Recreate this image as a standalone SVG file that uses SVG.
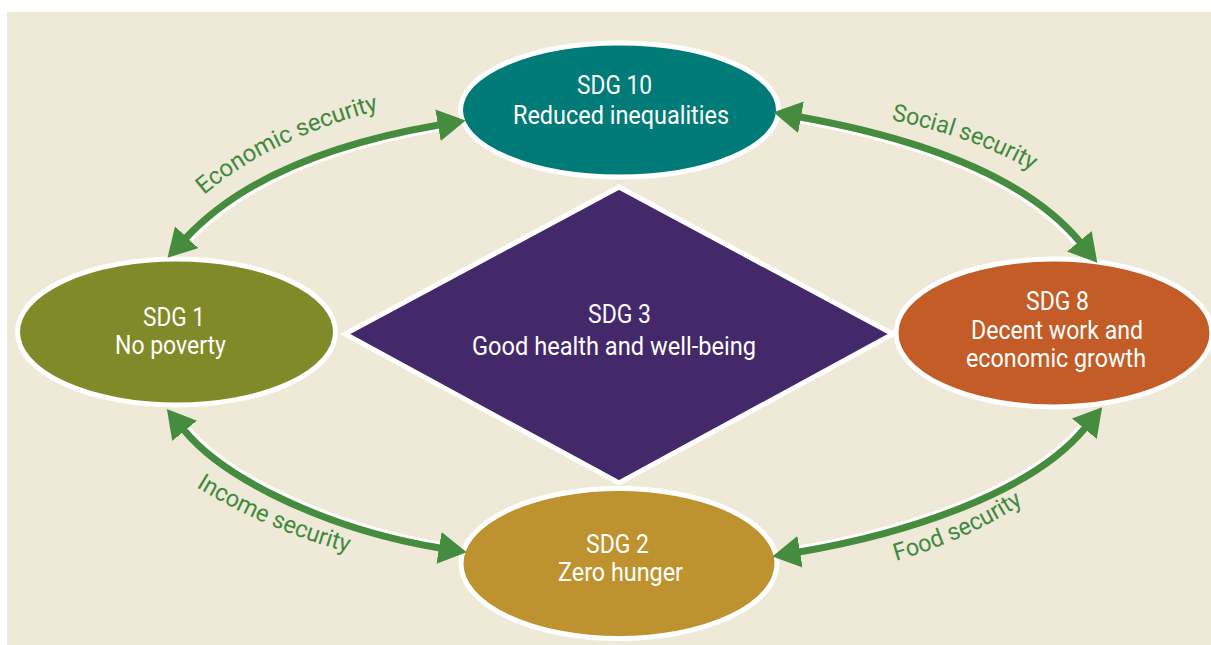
<svg xmlns="http://www.w3.org/2000/svg" width="1211" height="645" viewBox="0 0 1211 645">
  <style>
    .node { stroke: #ffffff; stroke-width: 5; }
    .title { font-family: Roboto, "Liberation Sans", sans-serif; font-size: 26px; fill: #ffffff; text-anchor: middle; }
    .link { fill: none; stroke: #458c3f; stroke-width: 7; }
    .halo { fill: none; stroke: #ffffff; stroke-width: 7; }
    .tag { font-family: Roboto, "Liberation Sans", sans-serif; font-size: 24px; fill: #3f893c; }
  </style>
  <defs>
    <marker id="head" markerUnits="userSpaceOnUse" viewBox="0 0 28 32" markerWidth="28" markerHeight="32" refX="1" refY="16" orient="auto-start-reverse">
      <path d="M0,0 L28,16 L0,32 Z" fill="#458c3f"/>
    </marker>
    <path id="p-econ" d="M 204,195 Q 272,137 387,108"/>
    <path id="p-social" d="M 891,120 Q 975,137 1034,172"/>
    <path id="p-income" d="M 196,487 Q 268,531 354,554"/>
    <path id="p-food" d="M 896,561 Q 968,540 1027,501"/>
  </defs>

  <rect x="7" y="12" width="1204" height="633" fill="#efe9d8"/>

  <g id="sdg3">
    <polygon class="node" points="619,187 893,334 619,483 345,334" fill="#43296a" stroke-width="4"/>
    <text class="title" x="619.5" y="323" textLength="63" lengthAdjust="spacingAndGlyphs">SDG 3</text>
    <text class="title" x="614" y="355" textLength="284" lengthAdjust="spacingAndGlyphs">Good health and well-being</text>
  </g>

  <g id="sdg10">
    <ellipse class="node" cx="619.5" cy="110" rx="159" ry="67" fill="#007b78"/>
    <text class="title" x="614.5" y="94" textLength="75" lengthAdjust="spacingAndGlyphs">SDG 10</text>
    <text class="title" x="621" y="124" textLength="216" lengthAdjust="spacingAndGlyphs">Reduced inequalities</text>
  </g>

  <g id="sdg1">
    <ellipse class="node" cx="176.5" cy="332" rx="159" ry="73" fill="#818a28"/>
    <text class="title" x="174" y="326" textLength="62" lengthAdjust="spacingAndGlyphs">SDG 1</text>
    <text class="title" x="170.5" y="354" textLength="111" lengthAdjust="spacingAndGlyphs">No poverty</text>
  </g>

  <g id="sdg8">
    <ellipse class="node" cx="1054" cy="333" rx="158" ry="74" fill="#c45c27"/>
    <text class="title" x="1057.5" y="310" textLength="63" lengthAdjust="spacingAndGlyphs">SDG 8</text>
    <text class="title" x="1057" y="339" textLength="172" lengthAdjust="spacingAndGlyphs">Decent work and</text>
    <text class="title" x="1056" y="367" textLength="180" lengthAdjust="spacingAndGlyphs">economic growth</text>
  </g>

  <g id="sdg2">
    <ellipse class="node" cx="619" cy="563.5" rx="158" ry="75" fill="#be922e"/>
    <text class="title" x="617.5" y="553" textLength="63" lengthAdjust="spacingAndGlyphs">SDG 2</text>
    <text class="title" x="620.5" y="581" textLength="125" lengthAdjust="spacingAndGlyphs">Zero hunger</text>
  </g>

  <g id="connectors">
    <!-- white edge on the inner side of each arc -->
    <path class="halo" d="M 439,125 C 340,142 245,175 186,238" transform="translate(2,2.5)"/>
    <path class="halo" d="M 800,117 C 900,135 1020,170 1080,242" transform="translate(-2,2.5)"/>
    <path class="halo" d="M 184,430 C 225,480 330,530 440,548" transform="translate(2,-2.5)"/>
    <path class="halo" d="M 799,552 C 900,535 1030,495 1085,428" transform="translate(-2,-2.5)"/>

    <path class="link" d="M 439,125 C 340,142 245,175 186,238" marker-start="url(#head)" marker-end="url(#head)"/>
    <path class="link" d="M 800,117 C 900,135 1020,170 1080,242" marker-start="url(#head)" marker-end="url(#head)"/>
    <path class="link" d="M 184,430 C 225,480 330,530 440,548" marker-start="url(#head)" marker-end="url(#head)"/>
    <path class="link" d="M 799,552 C 900,535 1030,495 1085,428" marker-start="url(#head)" marker-end="url(#head)"/>

    <text class="tag"><textPath href="#p-econ" textLength="196" lengthAdjust="spacingAndGlyphs">Economic security</textPath></text>
    <text class="tag"><textPath href="#p-social" textLength="150" lengthAdjust="spacingAndGlyphs">Social security</textPath></text>
    <text class="tag"><textPath href="#p-income" textLength="166" lengthAdjust="spacingAndGlyphs">Income security</textPath></text>
    <text class="tag"><textPath href="#p-food" textLength="140" lengthAdjust="spacingAndGlyphs">Food security</textPath></text>
  </g>
</svg>
